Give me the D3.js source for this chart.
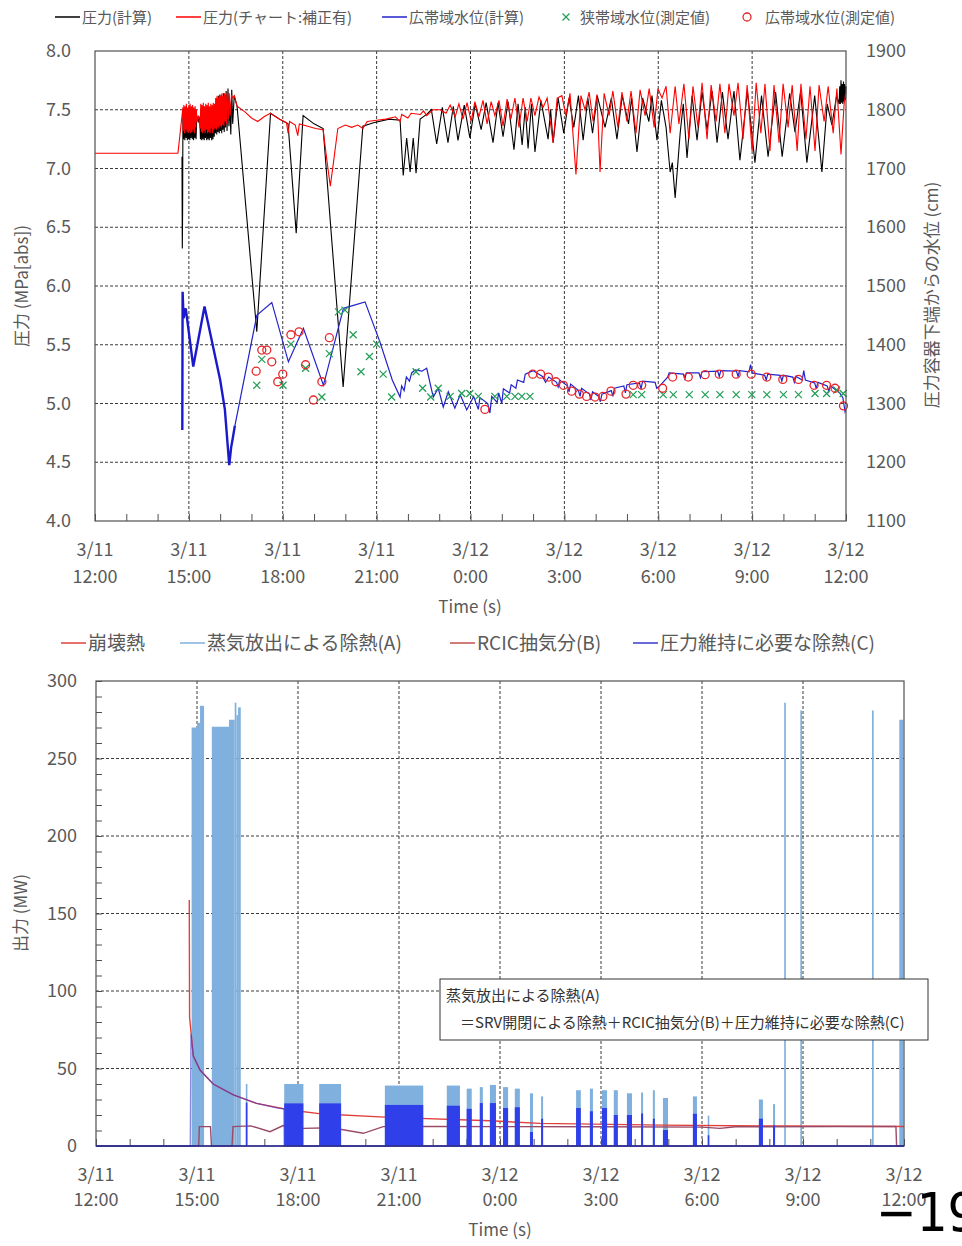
<!DOCTYPE html>
<html><head><meta charset="utf-8">
<script src="https://cdn.jsdelivr.net/npm/d3@7"></script>
<style>
body{margin:0;background:#fff}
svg{display:block}
text{font-family:"Noto Sans CJK JP","Noto Sans",sans-serif;fill:#595959}
</style></head>
<body><svg id="c" width="962" height="1246"></svg>
<script>
// ===== DATA (time in hours after 3/11 12:00) =====
const timeTicks = [0,3,6,9,12,15,18,21,24];
const timeLabels = [["3/11","12:00"],["3/11","15:00"],["3/11","18:00"],["3/11","21:00"],["3/12","0:00"],["3/12","3:00"],["3/12","6:00"],["3/12","9:00"],["3/12","12:00"]];
const pressureTicks = [4.0,4.5,5.0,5.5,6.0,6.5,7.0,7.5,8.0];
const levelTicks = [1100,1200,1300,1400,1500,1600,1700,1800,1900];
const powerTicks = [0,50,100,150,200,250,300];

// pressure, calculated (MPa[abs])
const pressureCalc = [[2.78,7.10],[2.79,6.32],[2.80,6.65],[2.81,7.50],
[2.83,7.25],[2.85,7.48],[2.87,7.24],[2.89,7.50],[2.91,7.26],[2.93,7.47],[2.95,7.24],[2.97,7.49],[2.99,7.25],[3.01,7.48],[3.03,7.24],[3.05,7.50],[3.07,7.26],[3.09,7.47],[3.11,7.25],[3.13,7.49],[3.15,7.24],[3.17,7.48],[3.19,7.26],[3.21,7.50],[3.23,7.25],[3.25,7.45],[3.30,7.40],[3.35,7.44],
[3.37,7.25],[3.39,7.50],[3.41,7.24],[3.43,7.48],[3.45,7.25],[3.47,7.51],[3.49,7.24],[3.51,7.47],[3.53,7.26],[3.55,7.50],[3.57,7.24],[3.59,7.49],[3.61,7.25],[3.63,7.50],[3.65,7.24],[3.67,7.48],[3.69,7.26],[3.71,7.51],[3.73,7.24],[3.75,7.49],[3.77,7.25],[3.79,7.50],[3.81,7.27],[3.83,7.52],
[3.85,7.30],[3.87,7.60],[3.89,7.29],[3.91,7.58],[3.93,7.31],[3.95,7.62],[3.97,7.30],[3.99,7.60],[4.01,7.32],[4.03,7.63],[4.05,7.30],[4.07,7.61],[4.09,7.33],[4.11,7.64],[4.13,7.31],[4.15,7.62],[4.17,7.35],[4.19,7.66],[4.22,7.32],[4.25,7.68],[4.28,7.36],[4.31,7.55],[4.34,7.29],[4.37,7.67],[4.40,7.38],
[4.45,7.62],[4.54,7.53],[5.17,5.61],[5.61,7.47],[5.90,7.42],[6.17,7.38],[6.43,6.45],[6.65,7.45],[7.00,7.38],[7.29,7.34],[7.93,5.14],[8.56,7.36],[8.90,7.39],[9.40,7.42],[9.75,7.41],[9.85,6.94],[9.96,7.26],[10.07,6.97],[10.17,7.26],[10.26,6.96],[10.39,7.42],[10.60,7.46],[10.75,7.50],[10.92,7.21],[11.10,7.52],[11.28,7.22],[11.45,7.53],[11.60,7.24],[11.80,7.54],[11.98,7.26],[12.15,7.55],[12.34,7.33],[12.50,7.56],[12.72,7.22],[12.88,7.56],[13.04,7.27],[13.20,7.57],[13.39,7.16],[13.52,7.55],[13.65,7.20],[13.75,7.52],[13.84,7.17],[13.95,7.55],[14.06,7.14],[14.25,7.58],[14.48,7.25],[14.56,7.50],[14.64,7.22],[14.80,7.60],[14.98,7.30],[15.15,7.60],[15.30,7.35],[15.45,7.62],[15.60,7.24],[15.75,7.60],[15.90,7.30],[16.05,7.62],[16.30,7.35],[16.50,7.60],[16.68,7.25],[16.85,7.62],[17.05,7.38],[17.15,7.60],[17.32,7.14],[17.50,7.60],[17.70,7.40],[17.80,7.62],[17.96,7.24],[18.10,7.58],[18.25,7.35],[18.30,7.20],[18.38,6.97],[18.45,7.05],[18.54,6.75],[18.70,7.30],[18.80,7.55],[18.92,7.09],[19.08,7.62],[19.24,7.24],[19.40,7.65],[19.56,7.33],[19.72,7.66],[19.88,7.22],[20.05,7.65],[20.23,7.25],[20.42,7.66],[20.61,7.07],[20.85,7.66],[21.09,7.05],[21.30,7.62],[21.51,7.10],[21.75,7.65],[21.96,7.10],[22.20,7.64],[22.37,7.31],[22.55,7.66],[22.75,7.05],[23.00,7.62],[23.23,6.97],[23.40,7.55],[23.55,7.37],[23.70,7.62],[23.78,7.55],[23.80,7.70],[23.82,7.55],[23.84,7.75],[23.86,7.56],[23.88,7.72],[23.90,7.55],[23.92,7.74],[23.94,7.57],[23.96,7.72],[23.98,7.58],[24.00,7.70]];

// pressure, chart record corrected (MPa[abs])
const pressureChart = [[0,7.13],[2.65,7.13],[2.81,7.52],
[2.82,7.32],[2.84,7.54],[2.86,7.30],[2.88,7.53],[2.90,7.33],[2.92,7.55],[2.94,7.31],[2.96,7.52],[2.98,7.30],[3.00,7.54],[3.02,7.32],[3.04,7.55],[3.06,7.30],[3.08,7.53],[3.10,7.31],[3.12,7.54],[3.14,7.33],[3.16,7.52],[3.18,7.30],[3.20,7.53],[3.22,7.35],[3.24,7.50],[3.26,7.40],[3.31,7.45],
[3.36,7.34],[3.38,7.55],[3.40,7.31],[3.42,7.54],[3.44,7.30],[3.46,7.56],[3.48,7.32],[3.50,7.53],[3.52,7.30],[3.54,7.55],[3.56,7.33],[3.58,7.54],[3.60,7.30],[3.62,7.56],[3.64,7.31],[3.66,7.53],[3.68,7.30],[3.70,7.55],[3.72,7.34],[3.74,7.54],[3.76,7.30],[3.78,7.56],[3.80,7.33],[3.82,7.55],
[3.84,7.34],[3.86,7.60],[3.88,7.33],[3.90,7.62],[3.92,7.35],[3.94,7.61],[3.96,7.34],[3.98,7.63],[4.00,7.36],[4.02,7.62],[4.04,7.35],[4.06,7.64],[4.08,7.37],[4.10,7.62],[4.12,7.36],[4.14,7.64],[4.16,7.40],[4.18,7.63],[4.20,7.38],[4.23,7.65],[4.26,7.42],[4.29,7.64],[4.32,7.45],[4.36,7.62],[4.41,7.60],[4.45,7.62],[4.54,7.53],
[4.80,7.48],[5.00,7.43],[5.20,7.40],[5.40,7.44],[5.60,7.47],[5.90,7.42],[6.12,7.39],[6.17,7.30],[6.22,7.40],[6.40,7.37],[6.48,7.28],[6.53,7.38],[6.80,7.36],[7.05,7.34],[7.29,7.33],[7.42,7.05],[7.52,6.85],[7.62,7.05],[7.76,7.34],[8.00,7.37],[8.20,7.35],[8.40,7.37],[8.56,7.34],[8.70,7.40],[9.00,7.41],[9.30,7.42],[9.60,7.44],[9.75,7.40],[9.80,7.46],[10.00,7.43],[10.10,7.47],[10.40,7.46],[10.50,7.49],[10.60,7.45],[10.80,7.50],[11.03,7.50],
[11.22,7.47],[11.35,7.54],[11.51,7.44],[11.63,7.55],[11.76,7.42],[11.89,7.56],[12.02,7.40],[12.14,7.57],[12.27,7.44],[12.40,7.58],[12.53,7.38],[12.66,7.57],[12.78,7.45],[12.91,7.58],[13.04,7.36],[13.17,7.59],[13.29,7.42],[13.42,7.60],[13.55,7.35],[13.68,7.60],[13.81,7.40],[13.93,7.60],[14.06,7.45],[14.19,7.61],[14.32,7.52],[14.45,7.60],[14.64,7.22],[14.77,7.60],[14.92,7.62],[15.05,7.45],[15.18,7.64],[15.37,6.95],[15.53,7.62],[15.66,7.50],[15.79,7.65],[15.92,7.40],[16.04,7.63],[16.14,6.97],[16.27,7.64],[16.43,7.45],[16.55,7.66],[16.71,7.35],[16.84,7.65],[17.00,7.40],[17.13,7.66],[17.29,7.30],[17.42,7.67],[17.58,7.45],[17.71,7.68],[17.87,7.35],[17.99,7.68],[18.12,7.60],[18.25,7.70],[18.38,7.30],[18.54,7.70],[18.66,7.38],[18.82,7.72],[18.98,7.25],[19.11,7.70],[19.27,7.35],[19.40,7.73],[19.56,7.25],[19.69,7.71],[19.85,7.40],[19.97,7.72],[20.13,7.30],[20.26,7.72],[20.42,7.45],[20.55,7.73],[20.71,7.25],[20.84,7.71],[21.00,7.15],[21.13,7.73],[21.28,7.30],[21.41,7.72],[21.57,7.15],[21.70,7.71],[21.86,7.22],[21.99,7.72],[22.15,7.35],[22.28,7.71],[22.44,7.15],[22.56,7.72],[22.72,7.25],[22.85,7.70],[23.01,7.15],[23.14,7.71],[23.30,7.40],[23.43,7.70],[23.59,7.30],[23.71,7.68],[23.84,7.12],[23.94,7.55],[24.00,7.65]];

// wide-range water level, calculated (cm)
const levelCalc = [[2.79,1255],[2.80,1490],[2.83,1445],[2.90,1462],[3.14,1363],[3.50,1465],[4.00,1340],[4.15,1290],[4.29,1195],[4.35,1225],[4.40,1240],[4.47,1262],
[5.17,1450],[5.65,1472],[6.18,1371],[6.66,1428],[7.30,1331],[7.94,1462],[8.63,1473],[9.11,1404],[9.50,1340],[9.75,1311],[9.80,1330],[9.88,1322],[9.95,1345],[10.05,1338],[10.12,1352],[10.23,1357],[10.45,1355],[10.60,1360],[10.81,1311],[10.97,1326],[11.13,1294],[11.29,1320],[11.50,1292],[11.67,1315],[11.88,1289],[12.10,1312],[12.25,1290],[12.30,1310],[12.55,1300],[12.62,1284],[12.68,1312],[12.85,1302],[12.90,1318],[13.00,1300],[13.05,1325],[13.25,1318],[13.30,1332],[13.45,1326],[13.50,1340],[13.70,1336],[13.75,1350],[14.00,1356],[14.30,1346],[14.40,1336],[14.50,1345],[14.75,1336],[14.80,1328],[14.85,1340],[15.10,1330],[15.15,1320],[15.20,1333],[15.45,1322],[15.50,1312],[15.55,1326],[15.80,1316],[15.85,1306],[15.90,1320],[16.10,1312],[16.15,1303],[16.20,1316],[16.50,1322],[16.55,1312],[16.60,1326],[16.90,1330],[16.95,1318],[17.00,1332],[17.40,1335],[17.45,1325],[17.50,1338],[17.90,1336],[17.95,1326],[18.05,1330],[18.30,1345],[18.35,1352],[18.80,1350],[18.85,1342],[18.90,1352],[19.30,1352],[19.35,1344],[19.40,1354],[19.90,1355],[19.95,1346],[20.00,1356],[20.50,1355],[20.55,1346],[20.60,1356],[20.90,1354],[20.95,1366],[21.00,1352],[21.40,1348],[21.45,1340],[21.50,1350],[21.90,1348],[21.95,1338],[22.00,1348],[22.30,1345],[22.35,1336],[22.40,1346],[22.60,1340],[22.65,1356],[22.70,1340],[23.00,1335],[23.05,1325],[23.10,1336],[23.40,1330],[23.45,1320],[23.50,1330],[23.80,1318],[23.90,1310],[23.97,1286],[24.00,1290]];

// narrow-range water level, measured (cm)
const levelNarrow = [[5.17,1331],[5.33,1375],[6.01,1331],[6.26,1401],[6.73,1360],[7.25,1311],[7.49,1385],[7.78,1456],[7.99,1459],[8.25,1417],[8.50,1354],[8.77,1380],[9.00,1401],[9.21,1350],[9.48,1311],[10.26,1354],[10.47,1326],[10.73,1311],[10.97,1326],[11.35,1312],[11.72,1317],[11.98,1317],[12.25,1312],[12.78,1312],[13.16,1312],[13.42,1312],[13.64,1312],[13.90,1312],[17.20,1315],[17.47,1315],[18.16,1315],[18.48,1315],[18.99,1315],[19.50,1315],[19.97,1315],[20.49,1315],[20.99,1315],[21.47,1315],[22.00,1315],[22.48,1315],[23.01,1317],[23.38,1317],[23.70,1323],[23.91,1317]];

// wide-range water level, measured (cm)
const levelWide = [[5.15,1355],[5.33,1391],[5.49,1391],[5.65,1371],[5.84,1337],[6.00,1350],[6.26,1417],[6.52,1422],[6.73,1366],[6.98,1306],[7.25,1337],[7.49,1412],[12.46,1290],[13.99,1350],[14.24,1350],[14.49,1345],[14.73,1337],[14.97,1331],[15.23,1321],[15.48,1316],[15.71,1312],[15.98,1311],[16.23,1312],[16.49,1321],[16.97,1316],[17.20,1331],[17.47,1331],[18.14,1326],[18.46,1345],[18.96,1345],[19.50,1349],[19.95,1350],[20.49,1350],[20.97,1350],[21.47,1345],[21.98,1341],[22.48,1341],[22.98,1331],[23.38,1331],[23.65,1326],[23.92,1296]];

// bottom chart (MW)
const decayHeat = [[2.77,158.7],[2.78,83],[2.89,58],[3.09,49],[3.48,40],[4.08,33],[4.77,27.5],[5.76,23.2],[6.75,20.6],[8.73,18.5],[11.70,16.3],[13.19,14.6],[16.84,13.5],[19.96,12.9],[24.00,12.6]];
const rcicExtract = [[0,0],[3.05,0],[3.07,12.5],[3.40,12.5],[3.43,0],[4.04,0],[4.07,12.5],[4.60,13],[5.17,9.2],[5.56,13.2],[6.16,11.4],[7.00,11.8],[7.94,8.2],[8.53,12.5],[10.0,12.6],[12.0,12.5],[15.0,12.4],[18.0,12.2],[18.53,11.4],[19.0,12.4],[22.0,12.6],[23.76,12.6],[23.78,0],[24,0]];
const pressureHoldLine = [[0,0],[2.80,0],[2.82,72],[2.89,58],[3.09,49],[3.48,40],[4.08,33],[4.77,27.5],[5.40,24.5],[5.58,24],[5.59,0],[24,0]];
// steam release heat removal (A): [start, end, top]
const steamRelease = [[2.84,3.00,270],[3.00,3.09,273],[3.09,3.21,284],[3.44,3.95,270.5],[3.95,4.12,275],[4.12,4.17,286],[4.17,4.22,278],[4.22,4.30,283],
[4.45,4.49,40],[5.59,6.16,40],[6.63,7.28,40],[8.58,9.72,39],[10.42,10.81,39],[11.01,11.16,37],[11.40,11.49,38],[11.70,11.88,39.4],[12.09,12.24,38],[12.44,12.59,37],[12.89,12.98,34],[13.22,13.28,32],[14.26,14.40,36],[14.67,14.76,37],[15.03,15.18,36],[15.38,15.50,36],[15.77,15.92,34],[16.19,16.25,34.5],[16.54,16.60,36],[16.84,16.99,31],[17.73,17.85,32],[18.17,18.20,19.6],[19.69,19.81,30],[20.11,20.17,27],
[20.44,20.49,286],[20.92,20.97,281],[23.05,23.10,281],[23.86,23.98,275]];
// heat removal needed for pressure hold (C): [start, end, top]
const pressureHold = [[4.45,4.49,28],[5.59,6.16,27.5],[6.63,7.28,27.5],[8.58,9.72,26.5],[10.42,10.81,26],[11.01,11.16,24],[11.40,11.49,27.7],[11.70,11.88,27.7],[12.09,12.24,24.5],[12.44,12.59,25],[12.89,12.98,9],[13.22,13.28,17.6],[14.26,14.40,24.5],[14.67,14.76,22.4],[15.03,15.18,24.5],[15.38,15.50,20],[15.77,15.92,20],[16.19,16.25,21],[16.54,16.60,17.6],[16.84,16.99,10.3],[17.73,17.85,20.8],[18.17,18.20,6.9],[19.69,19.81,17.6],[20.11,20.17,13.3]];

// ===== DRAW =====
const svg = d3.select("#c");
const GRID = "#3a3a3a", BORDER = "#505050";
function xLabels(g, x, y1, y2, size){
  g.selectAll(null).data(timeTicks).join("text")
   .attr("x", d=>x(d)).attr("y", y1).attr("text-anchor","middle").attr("font-size",size)
   .text((d,i)=>timeLabels[i][0]);
  g.selectAll(null).data(timeTicks).join("text")
   .attr("x", d=>x(d)).attr("y", y2).attr("text-anchor","middle").attr("font-size",size)
   .text((d,i)=>timeLabels[i][1]);
}
const line = (x,y)=>d3.line().x(d=>x(d[0])).y(d=>y(d[1]));

// ---------- TOP ----------
const xT = d3.scaleLinear().domain([0,24]).range([95,846]);
const yP = d3.scaleLinear().domain([4,8]).range([521,51]);
const yL = d3.scaleLinear().domain([1100,1900]).range([521,51]);
const gTop = svg.append("g");
gTop.selectAll(null).data(pressureTicks.slice(1,-1)).join("line")
  .attr("x1",95).attr("x2",846).attr("y1",d=>yP(d)).attr("y2",d=>yP(d))
  .attr("stroke",GRID).attr("stroke-dasharray","3,2");
gTop.selectAll(null).data(timeTicks.slice(1,-1)).join("line")
  .attr("y1",51).attr("y2",521).attr("x1",d=>xT(d)).attr("x2",d=>xT(d))
  .attr("stroke",GRID).attr("stroke-dasharray","3,2");
gTop.append("g").attr("transform","translate(0,521)")
  .call(d3.axisBottom(xT).tickValues(d3.range(0,25,1)).tickSize(-7).tickFormat(""))
  .call(g=>{g.select(".domain").remove(); g.selectAll("line").attr("stroke",BORDER);});

const blueThick = levelCalc.filter(d=>d[0]<=4.47);
const blueThin = levelCalc.filter(d=>d[0]>=4.47);
gTop.append("path").datum(pressureCalc).attr("d",line(xT,yP)).attr("fill","none").attr("stroke","#000").attr("stroke-width",1.1);
gTop.append("path").datum(pressureChart).attr("d",line(xT,yP)).attr("fill","none").attr("stroke","#ff0000").attr("stroke-width",1.1);
gTop.append("path").datum(blueThick).attr("d",line(xT,yL)).attr("fill","none").attr("stroke","#1a1acc").attr("stroke-width",2.4);
gTop.append("path").datum(blueThin).attr("d",line(xT,yL)).attr("fill","none").attr("stroke","#2222cc").attr("stroke-width",1.2);
gTop.selectAll(null).data(levelNarrow).join("path")
  .attr("transform",d=>`translate(${xT(d[0])},${yL(d[1])})`)
  .attr("d","M-3.5,-3.5L3.5,3.5M-3.5,3.5L3.5,-3.5").attr("stroke","#1f9e55").attr("stroke-width",1.2).attr("fill","none");
gTop.selectAll(null).data(levelWide).join("circle")
  .attr("cx",d=>xT(d[0])).attr("cy",d=>yL(d[1])).attr("r",4)
  .attr("fill","none").attr("stroke","#e8262a").attr("stroke-width",1.3);
gTop.append("rect").attr("x",95).attr("y",51).attr("width",751).attr("height",470)
  .attr("fill","none").attr("stroke",BORDER).attr("stroke-width",1.2);
gTop.selectAll(null).data(pressureTicks).join("text")
  .attr("x",71).attr("y",d=>yP(d)+6).attr("text-anchor","end").attr("font-size",18)
  .text(d=>d3.format(".1f")(d));
gTop.selectAll(null).data(levelTicks).join("text")
  .attr("x",866).attr("y",d=>yL(d)+6).attr("text-anchor","start").attr("font-size",18)
  .text(d=>d);
xLabels(gTop, xT, 556, 583, 18);
gTop.append("text").attr("x",470).attr("y",613).attr("text-anchor","middle").attr("font-size",17).text("Time (s)");
gTop.append("text").attr("transform","translate(28,286) rotate(-90)").attr("text-anchor","middle").attr("font-size",17).text("圧力 (MPa[abs])");
gTop.append("text").attr("transform","translate(938,295) rotate(-90)").attr("text-anchor","middle").attr("font-size",17).text("圧力容器下端からの水位 (cm)");

// top legend
const lg = svg.append("g");
const topLegend = [
  {type:"line", color:"#000", x:55, label:"圧力(計算)"},
  {type:"line", color:"#ff0000", x:176, label:"圧力(チャート:補正有)"},
  {type:"line", color:"#2222cc", x:382, label:"広帯域水位(計算)"},
  {type:"x", color:"#1f9e55", x:560, label:"狭帯域水位(測定値)"},
  {type:"o", color:"#e8262a", x:741, label:"広帯域水位(測定値)"}];
topLegend.forEach(d=>{
  if(d.type==="line"){
    lg.append("line").attr("x1",d.x).attr("x2",d.x+25).attr("y1",17).attr("y2",17).attr("stroke",d.color).attr("stroke-width",1.5);
    lg.append("text").attr("x",d.x+27).attr("y",22.5).attr("font-size",15).text(d.label);
  } else if(d.type==="x"){
    lg.append("path").attr("transform",`translate(${d.x+6},17)`).attr("d","M-3.5,-3.5L3.5,3.5M-3.5,3.5L3.5,-3.5").attr("stroke",d.color).attr("stroke-width",1.2);
    lg.append("text").attr("x",d.x+20).attr("y",22.5).attr("font-size",15).text(d.label);
  } else {
    lg.append("circle").attr("cx",d.x+6).attr("cy",17).attr("r",4).attr("fill","none").attr("stroke",d.color).attr("stroke-width",1.3);
    lg.append("text").attr("x",d.x+24).attr("y",22.5).attr("font-size",15).text(d.label);
  }
});

// ---------- BOTTOM ----------
const xB = d3.scaleLinear().domain([0,24]).range([96,904]);
const yB = d3.scaleLinear().domain([0,300]).range([1146,681]);
const gBot = svg.append("g");
gBot.selectAll(null).data(powerTicks.slice(1,-1)).join("line")
  .attr("x1",96).attr("x2",904).attr("y1",d=>yB(d)).attr("y2",d=>yB(d))
  .attr("stroke",GRID).attr("stroke-dasharray","3,2");
gBot.selectAll(null).data(timeTicks.slice(1,-1)).join("line")
  .attr("y1",681).attr("y2",1146).attr("x1",d=>xB(d)).attr("x2",d=>xB(d))
  .attr("stroke",GRID).attr("stroke-dasharray","3,2");
gBot.append("g").attr("transform","translate(0,1146)")
  .call(d3.axisBottom(xB).tickValues(d3.range(0,25,1)).tickSize(-7).tickFormat(""))
  .call(g=>{g.select(".domain").remove(); g.selectAll("line").attr("stroke",BORDER);});
gBot.append("g").attr("transform","translate(96,0)")
  .call(d3.axisLeft(yB).tickValues(d3.range(0,301,10)).tickSize(-6).tickFormat(""))
  .call(g=>{g.select(".domain").remove(); g.selectAll("line").attr("stroke",BORDER);});

// order: steam release (A) fill, then lines, then pressure-hold (C) fill
gBot.selectAll(null).data(steamRelease).join("rect")
  .attr("x",d=>xB(d[0])).attr("width",d=>Math.max(1.6,xB(d[1])-xB(d[0])))
  .attr("y",d=>yB(d[2])).attr("height",d=>yB(0)-yB(d[2])).attr("fill","#80b1de");
gBot.append("path").datum(decayHeat).attr("d",line(xB,yB)).attr("fill","none").attr("stroke","#e0403c").attr("stroke-width",1.4);
gBot.append("path").datum(rcicExtract).attr("d",line(xB,yB)).attr("fill","none").attr("stroke","#9a4a66").attr("stroke-width",1.4);
gBot.append("path").datum(pressureHoldLine).attr("d",line(xB,yB)).attr("fill","none").attr("stroke","#3a3ad0").attr("stroke-opacity",0.6).attr("stroke-width",1.3);
gBot.selectAll(null).data(pressureHold).join("rect")
  .attr("x",d=>xB(d[0])).attr("width",d=>Math.max(1.6,xB(d[1])-xB(d[0])))
  .attr("y",d=>yB(d[2])).attr("height",d=>yB(0)-yB(d[2])).attr("fill","#2f3fea");
gBot.append("rect").attr("x",96).attr("y",681).attr("width",808).attr("height",465)
  .attr("fill","none").attr("stroke",BORDER).attr("stroke-width",1.2);
gBot.append("line").attr("x1",96).attr("x2",904).attr("y1",1146).attr("y2",1146).attr("stroke","#2a2a9a").attr("stroke-width",1.4);

gBot.selectAll(null).data(powerTicks).join("text")
  .attr("x",77).attr("y",d=>yB(d)+6).attr("text-anchor","end").attr("font-size",18).text(d=>d);
xLabels(gBot, xB, 1181, 1206, 18);
gBot.append("text").attr("x",500).attr("y",1236).attr("text-anchor","middle").attr("font-size",17).text("Time (s)");
gBot.append("text").attr("transform","translate(27,913) rotate(-90)").attr("text-anchor","middle").attr("font-size",17).text("出力 (MW)");

// annotation box
gBot.append("rect").attr("x",440).attr("y",979).attr("width",488).attr("height",61).attr("fill","#fff").attr("stroke","#333").attr("stroke-width",1);
gBot.append("text").attr("x",446).attr("y",1001).attr("font-size",15).style("fill","#333").text("蒸気放出による除熱(A)");
gBot.append("text").attr("x",460).attr("y",1028).attr("font-size",15).style("fill","#333").text("＝SRV開閉による除熱＋RCIC抽気分(B)＋圧力維持に必要な除熱(C)");

// bottom legend
const bottomLegend = [
  {color:"#e0403c", x:61, label:"崩壊熱"},
  {color:"#80b1de", x:180, label:"蒸気放出による除熱(A)"},
  {color:"#c0504d", x:450, label:"RCIC抽気分(B)"},
  {color:"#3a3ad0", x:633, label:"圧力維持に必要な除熱(C)"}];
bottomLegend.forEach(d=>{
  svg.append("line").attr("x1",d.x).attr("x2",d.x+25).attr("y1",643).attr("y2",643).attr("stroke",d.color).attr("stroke-width",1.5);
  svg.append("text").attr("x",d.x+27).attr("y",650).attr("font-size",19).text(d.label);
});

// page number (partly outside the page, as in the reference)
svg.append("text").attr("x",876).attr("y",1231).attr("font-size",54).style("fill","#000")
  .style("font-family","'DejaVu Sans Condensed','Liberation Sans',sans-serif").text("−19−");
</script></body></html>
